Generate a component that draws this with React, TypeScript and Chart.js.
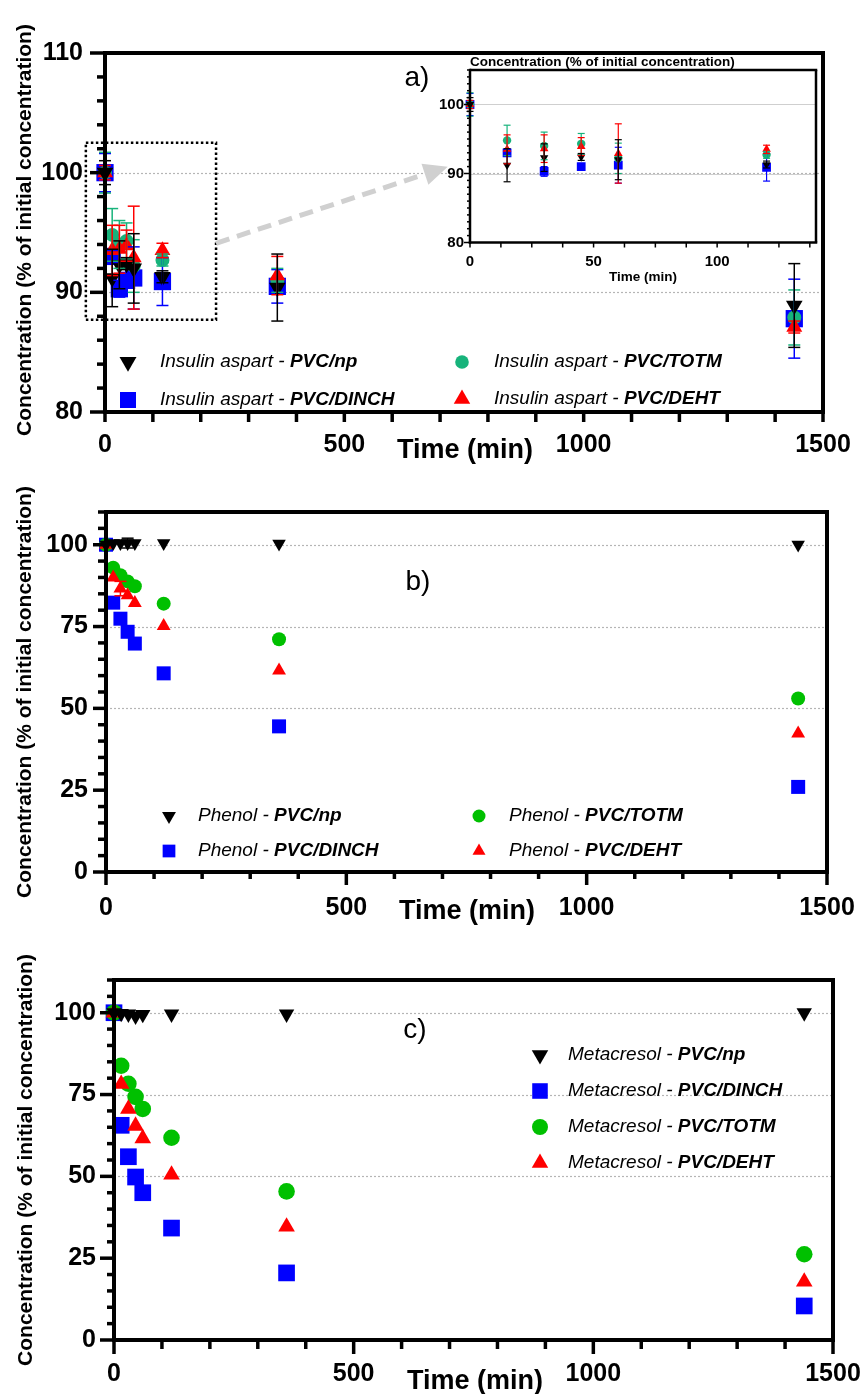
import React, { useEffect, useRef } from 'react';
import { Chart, registerables } from 'chart.js';

Chart.register(...registerables);

const FONT = "Arial, 'Liberation Sans', Helvetica, sans-serif";

// ---------------- data ----------------
const times = [0, 15, 30, 45, 60, 120, 360, 1440];

// a) insulin aspart (% of initial concentration) with SD
const insulinNp = [100, 91.2, 92.3, 92.4, 92.0, 91.3, 90.4, 88.9];
const insulinNpErr = [1.0, 2.4, 2.0, 0.5, 2.9, 0.5, 2.8, 3.5];
const insulinDinch = [100, 93.0, 90.3, 91.0, 91.2, 90.9, 90.5, 87.8];
const insulinDinchErr = [1.6, 0.5, 0.7, 0.3, 2.6, 2.0, 1.4, 3.3];
const insulinTotm = [100, 94.8, 94.0, 94.3, 92.2, 92.7, 91.0, 87.9];
const insulinTotmErr = [1.7, 2.2, 2.0, 1.5, 2.2, 0.5, 1.0, 2.3];
const insulinDeht = [100, 93.5, 93.6, 93.9, 92.9, 93.5, 91.4, 87.1];
const insulinDehtErr = [0.6, 2.1, 2.0, 1.3, 4.3, 0.6, 1.6, 0.5];

// b) phenol
const phenolNp = [100, 100.5, 100.5, 100.5, 100.5, 100.5, 100.3, 100.0];
const phenolNpErr = [0, 0, 0, 1.5, 0, 0, 0, 0];
const phenolDinch = [100, 82.3, 77.4, 73.4, 69.8, 60.7, 44.5, 26.0];
const phenolTotm = [100, 93.0, 90.7, 88.8, 87.3, 82.0, 71.1, 53.0];
const phenolDeht = [100, 90.0, 86.6, 84.6, 82.2, 75.2, 61.6, 42.3];
const phenolDehtErr = [0, 0, 2.2, 0, 0, 0, 0, 0];

// c) metacresol
const metacresolNp = [100, 99.8, 99.6, 99.0, 99.5, 99.6, 99.6, 100.0];
const metacresolDinch = [100, 65.6, 56.0, 49.8, 45.0, 34.2, 20.5, 10.4];
const metacresolTotm = [100, 83.8, 78.3, 74.3, 70.6, 61.8, 45.4, 26.2];
const metacresolDeht = [100, 78.2, 70.6, 65.4, 61.6, 50.5, 34.6, 17.8];

const materials = ['PVC/np', 'PVC/DINCH', 'PVC/TOTM', 'PVC/DEHT'];
const substances = ['Insulin aspart', 'Phenol', 'Metacresol'];

const mainXLabels = [0, 500, 1000, 1500];
const insulinYLabels = [80, 90, 100, 110];
const percentYLabels = [0, 25, 50, 75, 100];
const insetXLabels = [0, 50, 100];
const insetYLabels = [80, 90, 100];

// zoom box + arrow annotation (data coordinates of panel a)
const zoomBoxX = [-40, 232];
const zoomBoxY = [87.7, 102.5];
const arrowFrom = [232, 94.1];
const arrowTo = [716, 100.5];

const Y_TITLE = 'Concentration (% of initial concentration)';
const X_TITLE = 'Time (min)';

const BLACK = '#000000';
const BLUE = '#0000ff';
const RED = '#ff0000';
const TEAL = '#17b37b';
const GREEN = '#00c000';

// ---------------- helpers ----------------
function range(a, b, step) {
  const out = [];
  for (let v = a; v <= b + 1e-9; v += step) out.push(Math.round(v * 1000) / 1000);
  return out;
}
function without(list, remove) {
  return list.filter((v) => !remove.some((r) => Math.abs(r - v) < 1e-6));
}

function drawMarker(ctx, style, x, y, r, color) {
  ctx.save();
  ctx.fillStyle = color;
  ctx.beginPath();
  if (style === 'circle') {
    ctx.arc(x, y, r, 0, Math.PI * 2);
  } else if (style === 'rect') {
    const s = r * Math.SQRT1_2;
    ctx.rect(x - s, y - s, 2 * s, 2 * s);
  } else {
    const d = style === 'triangle' ? 1 : -1;
    for (let k = 0; k < 3; k++) {
      const a = (k * 2 * Math.PI) / 3;
      const px = x + d * Math.sin(a) * r;
      const py = y - d * Math.cos(a) * r;
      if (k === 0) ctx.moveTo(px, py);
      else ctx.lineTo(px, py);
    }
    ctx.closePath();
  }
  ctx.fill();
  ctx.restore();
}

function seg(ctx, x1, y1, x2, y2) {
  ctx.beginPath();
  ctx.moveTo(x1, y1);
  ctx.lineTo(x2, y2);
  ctx.stroke();
}

function decoPlugin(p) {
  return {
    id: 'deco',
    beforeDatasetsDraw(chart) {
      const { ctx, chartArea: a } = chart;
      const ys = chart.scales.y;
      ctx.save();
      ctx.strokeStyle = p.gridColor;
      ctx.lineWidth = p.gridWidth;
      ctx.setLineDash(p.gridDash);
      for (const v of p.gridLines) {
        const py = Math.round(ys.getPixelForValue(v)) + 0.5;
        seg(ctx, a.left, py, a.right, py);
      }
      ctx.restore();
    },
    afterDatasetsDraw(chart) {
      const { ctx, chartArea: a } = chart;
      const xs = chart.scales.x;
      const ys = chart.scales.y;
      ctx.save();
      ctx.lineCap = 'butt';
      // error bars
      ctx.lineWidth = p.errWidth;
      const ordered = [...p.series].sort((s1, s2) => s2.order - s1.order);
      for (const s of ordered) {
        if (!s.errors) continue;
        ctx.strokeStyle = s.color;
        times.forEach((t, i) => {
          const e = s.errors[i];
          if (!e || t < p.xMin || t > p.xMax) return;
          const px = xs.getPixelForValue(t);
          const y1 = ys.getPixelForValue(s.values[i] + e);
          const y2 = ys.getPixelForValue(s.values[i] - e);
          seg(ctx, px, y1, px, y2);
          seg(ctx, px - p.capHalf, y1, px + p.capHalf, y1);
          seg(ctx, px - p.capHalf, y2, px + p.capHalf, y2);
        });
      }
      // tick marks
      ctx.strokeStyle = '#000';
      ctx.lineWidth = p.tickWidth;
      for (const v of p.yMajor) {
        const py = ys.getPixelForValue(v);
        seg(ctx, a.left - p.yMajorLen, py, a.left, py);
      }
      for (const v of p.yMinor) {
        const py = ys.getPixelForValue(v);
        seg(ctx, a.left - p.yMinorLen, py, a.left, py);
      }
      for (const v of p.xMajor) {
        const px = xs.getPixelForValue(v);
        seg(ctx, px, a.bottom, px, a.bottom + p.xMajorLen);
      }
      for (const v of p.xMinor) {
        const px = xs.getPixelForValue(v);
        seg(ctx, px, a.bottom, px, a.bottom + p.xMinorLen);
      }
      // frame
      ctx.lineWidth = p.frameWidth;
      seg(ctx, a.left, a.top, a.right + p.frameWidth / 2, a.top);
      seg(ctx, a.right, a.top, a.right, a.bottom);
      // axes
      ctx.lineWidth = p.axisWidth;
      seg(ctx, a.left, a.top - p.frameWidth / 2, a.left, a.bottom + p.axisWidth / 2);
      seg(ctx, a.left - p.axisWidth / 2, a.bottom, a.right + p.frameWidth / 2, a.bottom);
      ctx.restore();

      if (p.extra) p.extra(chart);

      // legend
      ctx.save();
      ctx.textBaseline = 'middle';
      ctx.textAlign = 'left';
      ctx.fillStyle = '#000';
      for (const L of p.legend) {
        drawMarker(ctx, L.style, L.mx, L.my, L.radius, L.color);
        ctx.fillStyle = '#000';
        ctx.font = `italic ${p.legendSize}px ${FONT}`;
        ctx.fillText(L.prefix, L.tx, L.my);
        const w = ctx.measureText(L.prefix).width;
        ctx.font = `italic bold ${p.legendSize}px ${FONT}`;
        ctx.fillText(L.bold, L.tx + w, L.my);
      }
      ctx.restore();
    },
    afterDraw(chart) {
      const { ctx } = chart;
      for (const t of p.texts) {
        ctx.save();
        ctx.fillStyle = '#000';
        ctx.font = t.font;
        ctx.textAlign = t.align || 'center';
        ctx.textBaseline = 'middle';
        ctx.translate(t.x, t.y);
        if (t.rotate) ctx.rotate(-Math.PI / 2);
        ctx.fillText(t.text, 0, 0);
        ctx.restore();
      }
    },
  };
}

function toDataset(s, clip) {
  const down = s.style === 'triangleDown';
  return {
    label: s.name,
    data: times.map((t, i) => ({ x: t, y: s.values[i] })),
    pointStyle: down ? 'triangle' : s.style,
    pointRotation: down ? 180 : 0,
    pointRadius: s.radius,
    pointHoverRadius: s.radius,
    pointBackgroundColor: s.color,
    pointBorderColor: s.color,
    pointBorderWidth: 0,
    backgroundColor: s.color,
    borderColor: s.color,
    showLine: false,
    clip,
    order: s.order,
  };
}

function buildChart(canvas, p) {
  const a = p.area;
  const tickFont = { family: FONT, size: p.tickSize, weight: 'bold' };
  return new Chart(canvas, {
    type: 'scatter',
    data: { datasets: p.series.map((s) => toDataset(s, p.clip)) },
    options: {
      animation: false,
      responsive: false,
      devicePixelRatio: 1,
      events: [],
      layout: { padding: { left: 0, top: a.top, right: p.width - a.right, bottom: 0 } },
      plugins: { legend: { display: false }, tooltip: { enabled: false }, title: { display: false } },
      scales: {
        x: {
          type: 'linear',
          min: p.xMin,
          max: p.xMax,
          afterBuildTicks: (s) => {
            s.ticks = p.xLabels.map((v) => ({ value: v }));
          },
          afterFit: (s) => {
            s.height = p.height - a.bottom;
            s.paddingLeft = 0;
            s.paddingRight = 0;
          },
          grid: { display: false, drawTicks: false },
          border: { display: false },
          ticks: {
            color: '#000',
            font: tickFont,
            padding: p.xPad,
            maxRotation: 0,
            autoSkip: false,
            callback: (v) => String(v),
          },
        },
        y: {
          type: 'linear',
          min: p.yMin,
          max: p.yMax,
          afterBuildTicks: (s) => {
            s.ticks = p.yLabels.map((v) => ({ value: v }));
          },
          afterFit: (s) => {
            s.width = a.left;
            s.paddingTop = 0;
            s.paddingBottom = 0;
          },
          grid: { display: false, drawTicks: false },
          border: { display: false },
          ticks: {
            color: '#000',
            font: tickFont,
            padding: p.yPad,
            autoSkip: false,
            callback: (v) => String(v),
          },
        },
      },
    },
    plugins: [decoPlugin(p)],
  });
}

function makeSeries(values, errors, colorGreen, radii) {
  return [
    { name: materials[0], values: values[0], errors: errors[0], color: BLACK, style: 'triangleDown', radius: radii[0], order: 0 },
    { name: materials[1], values: values[1], errors: errors[1], color: BLUE, style: 'rect', radius: radii[1], order: 3 },
    { name: materials[2], values: values[2], errors: errors[2], color: colorGreen, style: 'circle', radius: radii[2], order: 2 },
    { name: materials[3], values: values[3], errors: errors[3], color: RED, style: 'triangle', radius: radii[3], order: 1 },
  ];
}

function makeLegend(substance, colorGreen, radii, pos) {
  const styles = ['triangleDown', 'rect', 'circle', 'triangle'];
  const colors = [BLACK, BLUE, colorGreen, RED];
  return materials.map((m, i) => ({
    style: styles[i],
    color: colors[i],
    radius: radii[i],
    mx: pos[i][0],
    my: pos[i][1],
    tx: pos[i][2],
    prefix: `${substance} - `,
    bold: m,
  }));
}

// ---------------- panels ----------------
const panelA = {
  left: 0, top: 0, width: 862, height: 480, z: 1,
  area: { left: 105, top: 53, right: 823, bottom: 412 },
  xMin: 0, xMax: 1500, yMin: 80, yMax: 110,
  xLabels: mainXLabels, yLabels: insulinYLabels,
  tickSize: 25, xPad: 18, yPad: 22,
  clip: false,
  series: makeSeries(
    [insulinNp, insulinDinch, insulinTotm, insulinDeht],
    [insulinNpErr, insulinDinchErr, insulinTotmErr, insulinDehtErr],
    TEAL,
    [9.6, 12.2, 7, 9.2]
  ),
  gridLines: [90, 100], gridColor: '#b5b5b5', gridWidth: 1.2, gridDash: [2, 2],
  xMajor: range(0, 1500, 100), xMinor: [], xMajorLen: 10, xMinorLen: 0,
  yMajor: insulinYLabels, yMinor: without(range(80, 110, 2), insulinYLabels), yMajorLen: 15, yMinorLen: 8,
  axisWidth: 4, tickWidth: 3.5, frameWidth: 4,
  errWidth: 1.5, capHalf: 6,
  legendSize: 19,
  legend: makeLegend(substances[0], TEAL, [9.8, 11.3, 6.8, 9.5], [
    [128, 362, 160], [128, 400, 160], [462, 362, 494], [462, 399, 494],
  ]),
  texts: [
    { text: Y_TITLE, x: 25, y: 230, font: `bold 21px ${FONT}`, rotate: true },
    { text: X_TITLE, x: 465, y: 451, font: `bold 27px ${FONT}` },
    { text: 'a)', x: 417, y: 78, font: `28px ${FONT}` },
  ],
  extra: (chart) => {
    const { ctx } = chart;
    const xs = chart.scales.x;
    const ys = chart.scales.y;
    ctx.save();
    // dotted zoom box
    const x0 = xs.getPixelForValue(zoomBoxX[0]);
    const x1 = xs.getPixelForValue(zoomBoxX[1]);
    const y0 = ys.getPixelForValue(zoomBoxY[1]);
    const y1 = ys.getPixelForValue(zoomBoxY[0]);
    ctx.strokeStyle = '#000';
    ctx.lineWidth = 2.5;
    ctx.setLineDash([2.5, 2.5]);
    ctx.strokeRect(x0, y0, x1 - x0, y1 - y0);
    // dashed arrow
    const ax = xs.getPixelForValue(arrowFrom[0]);
    const ay = ys.getPixelForValue(arrowFrom[1]);
    const bx = xs.getPixelForValue(arrowTo[0]);
    const by = ys.getPixelForValue(arrowTo[1]);
    const ang = Math.atan2(by - ay, bx - ax);
    const head = 24;
    const hx = bx - Math.cos(ang) * head;
    const hy = by - Math.sin(ang) * head;
    ctx.strokeStyle = '#d0d0d0';
    ctx.fillStyle = '#d0d0d0';
    ctx.lineWidth = 5;
    ctx.setLineDash([14, 8]);
    seg(ctx, ax, ay, hx, hy);
    ctx.setLineDash([]);
    ctx.beginPath();
    ctx.moveTo(bx, by);
    ctx.lineTo(hx + Math.sin(ang) * 11, hy - Math.cos(ang) * 11);
    ctx.lineTo(hx - Math.sin(ang) * 11, hy + Math.cos(ang) * 11);
    ctx.closePath();
    ctx.fill();
    ctx.restore();
  },
};

const panelInset = {
  left: 420, top: 50, width: 410, height: 245, z: 2,
  area: { left: 50, top: 20, right: 396, bottom: 192.5 },
  xMin: 0, xMax: 140, yMin: 80, yMax: 105,
  xLabels: insetXLabels, yLabels: insetYLabels,
  tickSize: 15, xPad: 10, yPad: 6,
  clip: 8,
  series: makeSeries(
    [insulinNp, insulinDinch, insulinTotm, insulinDeht],
    [insulinNpErr, insulinDinchErr, insulinTotmErr, insulinDehtErr],
    TEAL,
    [4.8, 6.2, 4.2, 5]
  ),
  gridLines: [90, 100], gridColor: '#cfcfcf', gridWidth: 1, gridDash: [],
  xMajor: range(0, 137.5, 12.5), xMinor: [], xMajorLen: 5, xMinorLen: 0,
  yMajor: insetYLabels, yMinor: without(range(80, 105, 1), insetYLabels), yMajorLen: 6, yMinorLen: 3,
  axisWidth: 2.5, tickWidth: 1.5, frameWidth: 2.5,
  errWidth: 1.2, capHalf: 3.5,
  legendSize: 12,
  legend: [],
  texts: [
    { text: Y_TITLE, x: 50, y: 12, font: `bold 13.5px ${FONT}`, align: 'left' },
    { text: X_TITLE, x: 223, y: 227, font: `bold 13.5px ${FONT}` },
  ],
};

const panelB = {
  left: 0, top: 465, width: 862, height: 470, z: 3,
  area: { left: 106, top: 47, right: 827, bottom: 407 },
  xMin: 0, xMax: 1500, yMin: 0, yMax: 110,
  xLabels: mainXLabels, yLabels: percentYLabels,
  tickSize: 25, xPad: 21, yPad: 18,
  clip: false,
  series: makeSeries(
    [phenolNp, phenolDinch, phenolTotm, phenolDeht],
    [phenolNpErr, null, null, phenolDehtErr],
    GREEN,
    [7.8, 9.9, 7, 8]
  ),
  gridLines: [50, 75, 100], gridColor: '#b5b5b5', gridWidth: 1.2, gridDash: [2, 2],
  xMajor: mainXLabels, xMinor: without(range(0, 1500, 100), mainXLabels), xMajorLen: 13, xMinorLen: 7,
  yMajor: percentYLabels, yMinor: without(range(0, 110, 5), percentYLabels), yMajorLen: 13, yMinorLen: 8,
  axisWidth: 4, tickWidth: 3.5, frameWidth: 4,
  errWidth: 1.5, capHalf: 6,
  legendSize: 19,
  legend: makeLegend(substances[1], GREEN, [8, 9, 6.5, 7.5], [
    [169, 351, 198], [169, 386, 198], [479, 351, 509], [479, 386, 509],
  ]),
  texts: [
    { text: Y_TITLE, x: 25, y: 227, font: `bold 21px ${FONT}`, rotate: true },
    { text: X_TITLE, x: 467, y: 447, font: `bold 27px ${FONT}` },
    { text: 'b)', x: 418, y: 117, font: `28px ${FONT}` },
  ],
};

const panelC = {
  left: 0, top: 915, width: 862, height: 479, z: 4,
  area: { left: 114, top: 65, right: 833, bottom: 425 },
  xMin: 0, xMax: 1500, yMin: 0, yMax: 110,
  xLabels: mainXLabels, yLabels: percentYLabels,
  tickSize: 25, xPad: 19, yPad: 18,
  clip: false,
  series: makeSeries(
    [metacresolNp, metacresolDinch, metacresolTotm, metacresolDeht],
    [null, null, null, null],
    GREEN,
    [8.9, 11.8, 8.3, 9.6]
  ),
  gridLines: [50, 75, 100], gridColor: '#b5b5b5', gridWidth: 1.2, gridDash: [2, 2],
  xMajor: mainXLabels, xMinor: without(range(0, 1500, 100), mainXLabels), xMajorLen: 14, xMinorLen: 9,
  yMajor: percentYLabels, yMinor: without(range(0, 110, 5), percentYLabels), yMajorLen: 14, yMinorLen: 7,
  axisWidth: 4, tickWidth: 3.5, frameWidth: 4,
  errWidth: 1.5, capHalf: 6,
  legendSize: 19,
  legend: makeLegend(substances[2], GREEN, [9.5, 11, 8, 9.5], [
    [540, 140, 568], [540, 176, 568], [540, 212, 568], [540, 248, 568],
  ]),
  texts: [
    { text: Y_TITLE, x: 26, y: 245, font: `bold 21px ${FONT}`, rotate: true },
    { text: X_TITLE, x: 475, y: 467, font: `bold 27px ${FONT}` },
    { text: 'c)', x: 415, y: 115, font: `28px ${FONT}` },
  ],
};

const panels = [panelA, panelInset, panelB, panelC];

function PanelCanvas({ panel }) {
  const ref = useRef(null);
  useEffect(() => {
    if (!ref.current) return undefined;
    const chart = buildChart(ref.current, panel);
    return () => chart.destroy();
  }, [panel]);
  return (
    <canvas
      ref={ref}
      width={panel.width}
      height={panel.height}
      style={{
        position: 'absolute',
        left: panel.left,
        top: panel.top,
        width: panel.width,
        height: panel.height,
        zIndex: panel.z,
      }}
    />
  );
}

export default function App() {
  return (
    <div
      style={{
        position: 'absolute',
        left: 0,
        top: 0,
        width: 862,
        height: 1394,
        background: '#ffffff',
        overflow: 'hidden',
      }}
    >
      {panels.map((p, i) => (
        <PanelCanvas key={i} panel={p} />
      ))}
    </div>
  );
}
